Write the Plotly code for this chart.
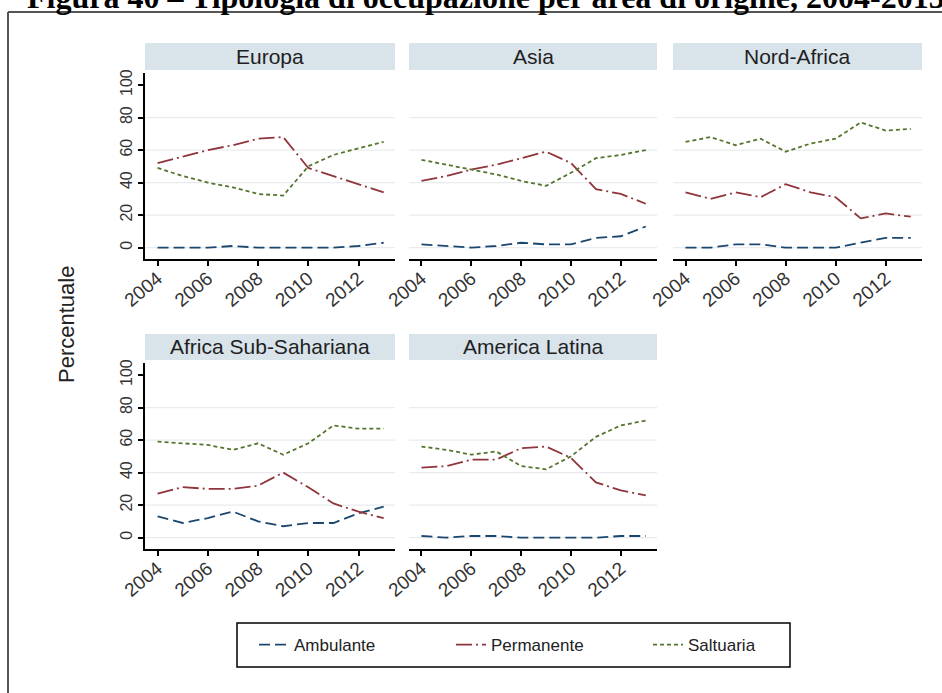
import plotly.graph_objects as go

W, H = 942, 693

years = list(range(2004, 2014))
regions = ["Europa", "Asia", "Nord-Africa", "Africa Sub-Sahariana", "America Latina"]
series_names = ["Ambulante", "Permanente", "Saltuaria"]

# percentuali per area (2004-2013)
europa_amb = [0, 0, 0, 1, 0, 0, 0, 0, 1, 3]
europa_perm = [52, 56, 60, 63, 67, 68, 49, 44, 39, 34]
europa_salt = [49, 44, 40, 37, 33, 32, 50, 57, 61, 65]

asia_amb = [2, 1, 0, 1, 3, 2, 2, 6, 7, 13]
asia_perm = [41, 44, 48, 51, 55, 59, 52, 36, 33, 27]
asia_salt = [54, 51, 48, 45, 41, 38, 46, 55, 57, 60]

nafrica_amb = [0, 0, 2, 2, 0, 0, 0, 3, 6, 6]
nafrica_perm = [34, 30, 34, 31, 39, 34, 31, 18, 21, 19]
nafrica_salt = [65, 68, 63, 67, 59, 64, 67, 77, 72, 73]

subsah_amb = [13, 9, 12, 16, 10, 7, 9, 9, 15, 19]
subsah_perm = [27, 31, 30, 30, 32, 40, 31, 21, 16, 12]
subsah_salt = [59, 58, 57, 54, 58, 51, 58, 69, 67, 67]

amlat_amb = [1, 0, 1, 1, 0, 0, 0, 0, 1, 1]
amlat_perm = [43, 44, 48, 48, 55, 56, 49, 34, 29, 26]
amlat_salt = [56, 54, 51, 53, 44, 42, 50, 62, 69, 72]

xtick_vals = [2004, 2006, 2008, 2010, 2012]
ytick_vals = [0, 20, 40, 60, 80, 100]
grid_vals = [0, 20, 40, 60, 80]

panel_data = [
    (europa_amb, europa_perm, europa_salt),
    (asia_amb, asia_perm, asia_salt),
    (nafrica_amb, nafrica_perm, nafrica_salt),
    (subsah_amb, subsah_perm, subsah_salt),
    (amlat_amb, amlat_perm, amlat_salt),
]

colors = ["#1a476f", "#90353b", "#55752f"]
dashes = ["11px,5px", "16px,4px,2px,4px", "4px,3px"]

# panel positions in pixels
cols = [(145, 395), (409, 657), (673, 922)]
rows = [(73, 259), (363, 549)]
strips = [(43, 70), (334, 360)]


def px(x):
    return x / W


def py(y):
    return 1 - y / H


fig = go.Figure()

for i, (region, data) in enumerate(zip(regions, panel_data)):
    r, c = divmod(i, 3)
    n = i + 1
    xa = "x" if n == 1 else f"x{n}"
    ya = "y" if n == 1 else f"y{n}"
    for k in range(3):
        fig.add_trace(go.Scatter(
            x=years, y=data[k], mode="lines", name=series_names[k],
            line=dict(color=colors[k], width=1.8, dash=dashes[k]),
            xaxis=xa, yaxis=ya, showlegend=(i == 0), hoverinfo="skip"))

    x0, x1 = cols[c]
    y0, y1 = rows[r]
    left = (c == 0)
    fig.update_layout(**{
        ("xaxis" if n == 1 else f"xaxis{n}"): dict(
            domain=[px(x0), px(x1)], anchor=ya, range=[2003.5, 2013.45],
            tickvals=xtick_vals, ticktext=[str(v) for v in xtick_vals],
            tickangle=-40, ticks="outside", ticklen=5, tickwidth=1.5,
            ticklabelstandoff=-6,
            tickcolor="black", showline=True, linecolor="black", linewidth=2,
            showgrid=False, zeroline=False, automargin=False,
            tickfont=dict(family="Liberation Sans", size=19, color="#333")),
        ("yaxis" if n == 1 else f"yaxis{n}"): dict(
            domain=[py(y1), py(y0)], anchor=xa, range=[-7, 107.4],
            tickvals=ytick_vals, ticktext=[str(v) for v in ytick_vals],
            tickangle=-90, showticklabels=left,
            ticks="outside" if left else "", ticklen=5, tickwidth=1.5,
            tickcolor="black", showline=left, linecolor="black", linewidth=2,
            showgrid=False, zeroline=False, automargin=False,
            tickfont=dict(family="Liberation Sans", size=16, color="#333")),
    })

    # gridlines
    for g in grid_vals:
        fig.add_shape(type="line", xref=f"{xa} domain", yref=ya,
                      x0=0, x1=1, y0=g, y1=g, layer="below",
                      line=dict(color="#e9ecee", width=1.2))

    # strip header
    s0, s1 = strips[r]
    fig.add_shape(type="rect", xref="paper", yref="paper",
                  x0=px(x0), x1=px(x1), y0=py(s1), y1=py(s0),
                  fillcolor="#d8e3ea", line=dict(width=0))
    fig.add_annotation(x=px((x0 + x1) / 2), y=py((s0 + s1) / 2),
                       xref="paper", yref="paper", text=region, showarrow=False,
                       xanchor="center", yanchor="middle",
                       font=dict(family="Liberation Sans", size=21, color="#1f1f1f"))

# y title
fig.add_annotation(x=px(66), y=py(325), xref="paper", yref="paper",
                   xanchor="center", yanchor="middle",
                   text="Percentuale", textangle=-90, showarrow=False,
                   font=dict(family="Liberation Sans", size=22, color="#222"))

# title (cut at top of the page)
fig.add_annotation(x=px(25), y=py(17), xref="paper", yref="paper",
                   xanchor="left", yanchor="bottom",
                   text="<b>Figura 40 – Tipologia di occupazione per area di origine, 2004-2013</b>",
                   showarrow=False,
                   font=dict(family="Liberation Serif", size=32, color="black"))

# page frame
fig.add_shape(type="line", xref="paper", yref="paper",
              x0=px(8), x1=1, y0=py(12), y1=py(12),
              line=dict(color="#555", width=2))
fig.add_shape(type="line", xref="paper", yref="paper",
              x0=px(8), x1=px(8), y0=py(12), y1=0,
              line=dict(color="#555", width=2))

# legend box
fig.add_shape(type="rect", xref="paper", yref="paper",
              x0=px(237), x1=px(790), y0=py(667), y1=py(623),
              line=dict(color="black", width=1.5), fillcolor="rgba(0,0,0,0)")

fig.update_layout(
    width=W, height=H,
    margin=dict(l=0, r=0, t=0, b=0, autoexpand=False),
    paper_bgcolor="white", plot_bgcolor="white",
    legend=dict(orientation="h", x=px(254), xanchor="left",
                y=py(645), yanchor="middle", bgcolor="rgba(0,0,0,0)",
                entrywidth=152, traceorder="normal",
                font=dict(family="Liberation Sans", size=17, color="#222")),
)

fig.write_html("out.html", config={"displayModeBar": False},
               post_script="document.body.style.margin='0px';")
